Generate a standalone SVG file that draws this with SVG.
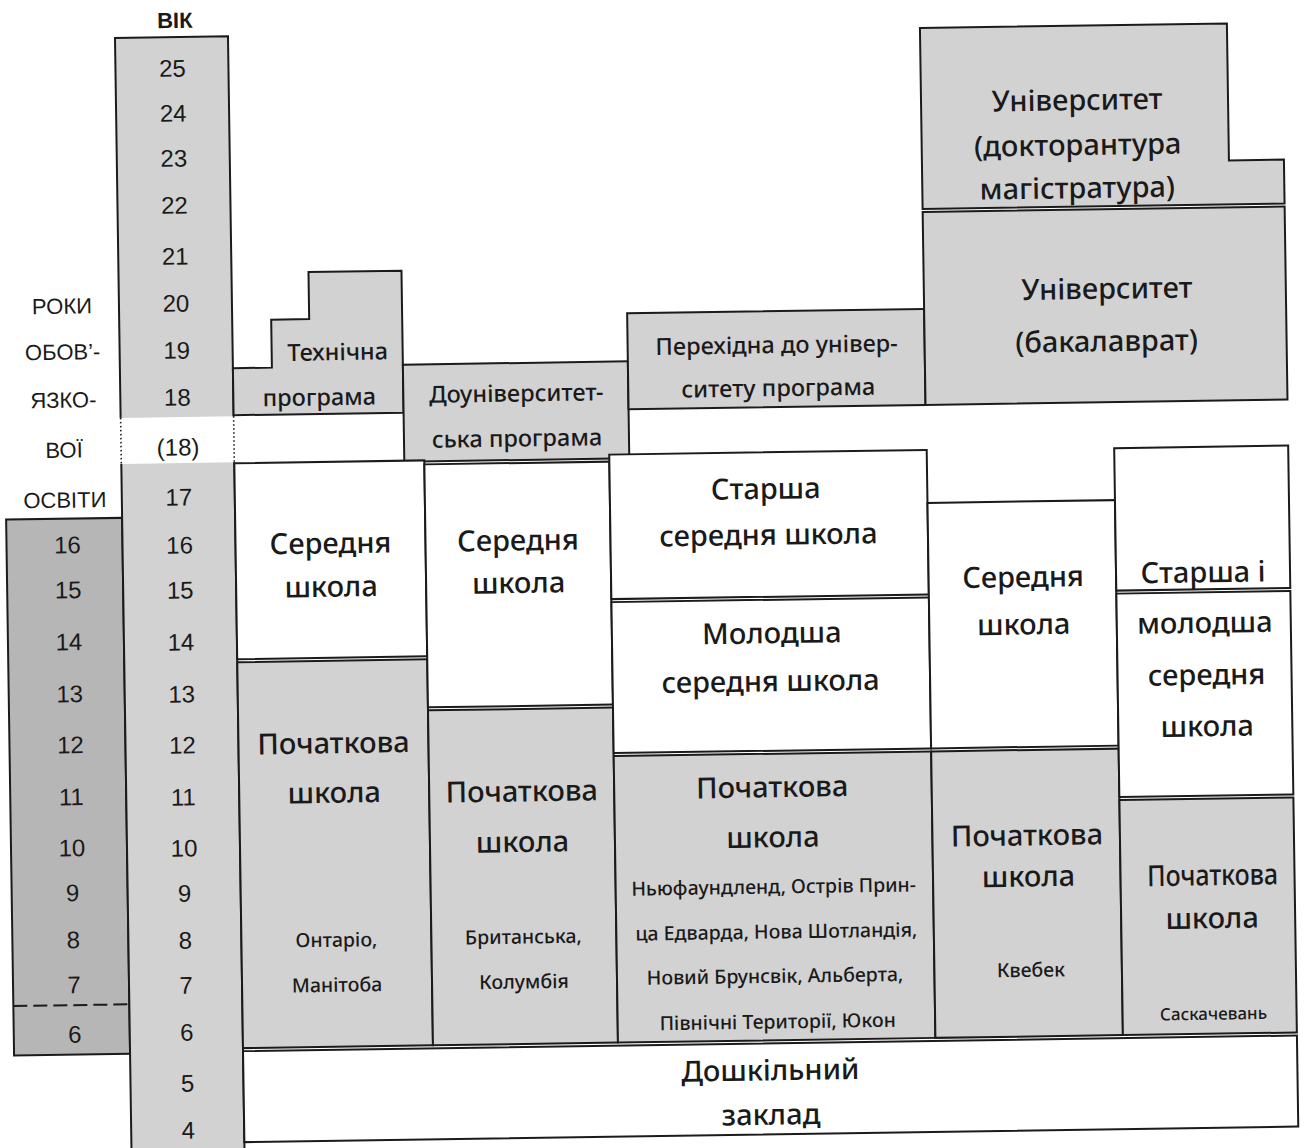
<svg xmlns="http://www.w3.org/2000/svg" width="1306" height="1148" viewBox="0 0 1306 1148">
  <style>
    .ln { stroke: #1b1b1b; stroke-width: 2; fill: none; }
    .box { stroke: #1b1b1b; stroke-width: 2; }
    .g { fill: #d2d2d2; }
    .dk { fill: #b6b6b6; }
    .w { fill: #ffffff; }
    .dot { stroke: #1b1b1b; stroke-width: 1.6; stroke-dasharray: 1.5 2.5; fill: none; }
    .dash { stroke: #1b1b1b; stroke-width: 2; stroke-dasharray: 14 6; fill: none; }
    text { fill: #1a1a1a; text-anchor: middle; }
    .num { font-family: "Liberation Sans", Arial, sans-serif; font-size: 24px; }
    .lbl { font-family: "Liberation Sans", Arial, sans-serif; font-size: 22px; }
    .hd { font-family: "Liberation Sans", Arial, sans-serif; font-size: 22px; font-weight: bold; }
    .big { font-family: "Noto Sans", "Open Sans", sans-serif; font-size: 29px; font-weight: 500; }
    .mid { font-family: "Noto Sans", "Open Sans", sans-serif; font-size: 23.5px; font-weight: 500; }
    .sm { font-family: "Noto Sans", "Open Sans", sans-serif; font-size: 19.5px; font-weight: 500; }
  </style>

  <rect x="0" y="0" width="1306" height="1148" fill="#ffffff"/>

  <!-- whole chart sits slightly tilted, as printed -->
  <g transform="rotate(-0.85 653 574)">

    <!-- compulsory schooling years -->
    <g id="compulsory-years">
      <rect class="box dk" x="7" y="510" width="116" height="536"/>
      <path class="dash" d="M7,996.5 H123"/>
      <text class="lbl" x="66" y="305">РОКИ</text>
      <text class="lbl" x="66" y="351">ОБОВ’-</text>
      <text class="lbl" x="66" y="399">ЯЗКО-</text>
      <text class="lbl" x="66" y="449">ВОЇ</text>
      <text class="lbl" x="66" y="499">ОСВІТИ</text>
      <text class="num" x="68" y="544.6">16</text>
      <text class="num" x="68" y="589.6">15</text>
      <text class="num" x="68" y="641.6">14</text>
      <text class="num" x="68" y="693.6">13</text>
      <text class="num" x="68" y="744.6">12</text>
      <text class="num" x="68" y="796.6">11</text>
      <text class="num" x="68" y="847.6">10</text>
      <text class="num" x="68" y="892.6">9</text>
      <text class="num" x="68" y="939.6">8</text>
      <text class="num" x="68" y="984.6">7</text>
      <text class="num" x="68" y="1034">6</text>
    </g>

    <!-- age scale -->
    <g id="age-scale">
      <rect class="g" x="123" y="30" width="113" height="380"/>
      <rect class="g" x="123" y="456" width="113" height="730"/>
      <path class="ln" d="M123,410 V30 H236 V410"/>
      <path class="ln" d="M123,456 V1190 M236,456 V1190"/>
      <path class="dot" d="M123,410 V456 M236,410 V456"/>
      <text class="hd" x="183" y="21">ВІК</text>
      <text class="num" x="180" y="69.6">25</text>
      <text class="num" x="180" y="114.6">24</text>
      <text class="num" x="180" y="159.6">23</text>
      <text class="num" x="180" y="206.6">22</text>
      <text class="num" x="180" y="257.6">21</text>
      <text class="num" x="180" y="304.6">20</text>
      <text class="num" x="180" y="351.6">19</text>
      <text class="num" x="180" y="398.6">18</text>
      <text class="num" x="180" y="448.6">(18)</text>
      <text class="num" x="180" y="498.6">17</text>
      <text class="num" x="180" y="546.6">16</text>
      <text class="num" x="180" y="591.6">15</text>
      <text class="num" x="180" y="643.6">14</text>
      <text class="num" x="180" y="695.6">13</text>
      <text class="num" x="180" y="746.6">12</text>
      <text class="num" x="180" y="798.6">11</text>
      <text class="num" x="180" y="849.6">10</text>
      <text class="num" x="180" y="894.6">9</text>
      <text class="num" x="180" y="941.6">8</text>
      <text class="num" x="180" y="986.6">7</text>
      <text class="num" x="180" y="1033.6">6</text>
      <text class="num" x="180" y="1084.6">5</text>
      <text class="num" x="180" y="1131.6">4</text>
    </g>

    <!-- post-secondary programmes -->
    <g id="technical-program">
      <path class="box g" d="M236,362 H275 V314 H313 V267 H406 V409 H236 Z"/>
      <text class="mid" x="341" y="355.5">Технічна</text>
      <text class="mid" x="322" y="400.5">програма</text>
    </g>
    <g id="pre-university-program">
      <rect class="box g" x="406" y="361" width="225" height="97"/>
      <text class="mid" x="519" y="399.5">Доуніверситет-</text>
      <text class="mid" x="519" y="444.5">ська програма</text>
    </g>
    <g id="university-transfer-program">
      <rect class="box g" x="631" y="313" width="297" height="96"/>
      <text class="mid" x="780" y="355">Перехідна до універ-</text>
      <text class="mid" x="781" y="398">ситету програма</text>
    </g>
    <g id="university-graduate">
      <path class="box g" d="M928,32 H1235 V169 H1290 V213 H928 Z"/>
      <text class="big" x="1084" y="116.5">Університет</text>
      <text class="big" x="1084" y="161.5">(докторантура</text>
      <text class="big" x="1083" y="204.5">магістратура)</text>
    </g>
    <g id="university-bachelor">
      <rect class="box g" x="928" y="216" width="362" height="193"/>
      <text class="big" x="1111" y="305.5">Університет</text>
      <text class="big" x="1110" y="358">(бакалаврат)</text>
    </g>

    <!-- Ontario, Manitoba -->
    <g id="secondary-on-mb">
      <rect class="box w" x="236" y="457" width="190" height="196"/>
      <text class="big" x="331" y="548.5">Середня</text>
      <text class="big" x="331" y="592">школа</text>
    </g>
    <g id="primary-on-mb">
      <rect class="box g" x="236" y="656" width="190" height="386"/>
      <text class="big" x="331" y="748.5">Початкова</text>
      <text class="big" x="331" y="798">школа</text>
      <text class="sm" x="331" y="942">Онтаріо,</text>
      <text class="sm" x="331" y="987">Манітоба</text>
    </g>

    <!-- British Columbia -->
    <g id="secondary-bc">
      <rect class="box w" x="426" y="461" width="185" height="243"/>
      <text class="big" x="518.5" y="548.5">Середня</text>
      <text class="big" x="518.5" y="591">школа</text>
    </g>
    <g id="primary-bc">
      <rect class="box g" x="426" y="707" width="185" height="335"/>
      <text class="big" x="518.5" y="799.5">Початкова</text>
      <text class="big" x="518.5" y="850">школа</text>
      <text class="sm" x="518" y="941.6">Британська,</text>
      <text class="sm" x="518" y="986.6">Колумбія</text>
    </g>

    <!-- Atlantic provinces, Alberta, territories -->
    <g id="senior-secondary">
      <rect class="box w" x="611" y="454" width="317.5" height="144.5"/>
      <text class="big" x="767" y="500.5">Старша</text>
      <text class="big" x="769" y="546.5">середня школа</text>
    </g>
    <g id="junior-secondary">
      <rect class="box w" x="611" y="601.5" width="317.5" height="151"/>
      <text class="big" x="771" y="645">Молодша</text>
      <text class="big" x="769" y="693">середня школа</text>
    </g>
    <g id="primary-atlantic">
      <rect class="box g" x="611" y="755.5" width="317.5" height="286.5"/>
      <text class="big" x="769" y="799">Початкова</text>
      <text class="big" x="769" y="849">школа</text>
      <text class="sm" x="769" y="895.3">Ньюфаундленд, Острів Прин-</text>
      <text class="sm" x="771" y="940.3">ца Едварда, Нова Шотландія,</text>
      <text class="sm" x="769" y="984.6">Новий Брунсвік, Альберта,</text>
      <text class="sm" x="771" y="1030.3">Північні Території, Юкон</text>
    </g>

    <!-- Quebec -->
    <g id="secondary-qc">
      <rect class="box w" x="928.5" y="507" width="187.5" height="245.5"/>
      <text class="big" x="1023" y="592.5">Середня</text>
      <text class="big" x="1023" y="640">школа</text>
    </g>
    <g id="primary-qc">
      <rect class="box g" x="928.5" y="755.5" width="187.5" height="286.5"/>
      <text class="big" x="1023" y="851">Початкова</text>
      <text class="big" x="1024" y="892">школа</text>
      <text class="sm" x="1025" y="982.4">Квебек</text>
    </g>

    <!-- Saskatchewan -->
    <g id="senior-sk">
      <rect class="box w" x="1116" y="455" width="174" height="142.5"/>
      <text class="big" x="1203" y="590.5">Старша і</text>
    </g>
    <g id="junior-sk">
      <rect class="box w" x="1116" y="600.5" width="174" height="203.5"/>
      <text class="big" x="1204" y="641">молодша</text>
      <text class="big" x="1205" y="693">середня</text>
      <text class="big" x="1205" y="744.5">школа</text>
    </g>
    <g id="primary-sk">
      <rect class="box g" x="1116" y="807" width="174" height="235"/>
      <text class="big" x="1208" y="893.5" textLength="131" lengthAdjust="spacingAndGlyphs">Початкова</text>
      <text class="big" x="1207" y="936.5">школа</text>
      <text class="sm" x="1207" y="1028" style="font-size:17px">Саскачевань</text>
    </g>

    <!-- preschool -->
    <g id="preschool">
      <rect class="box w" x="236" y="1045" width="1054" height="91"/>
      <text class="big" x="763" y="1082">Дошкільний</text>
      <text class="big" x="763" y="1126.5">заклад</text>
    </g>
  </g>
</svg>
